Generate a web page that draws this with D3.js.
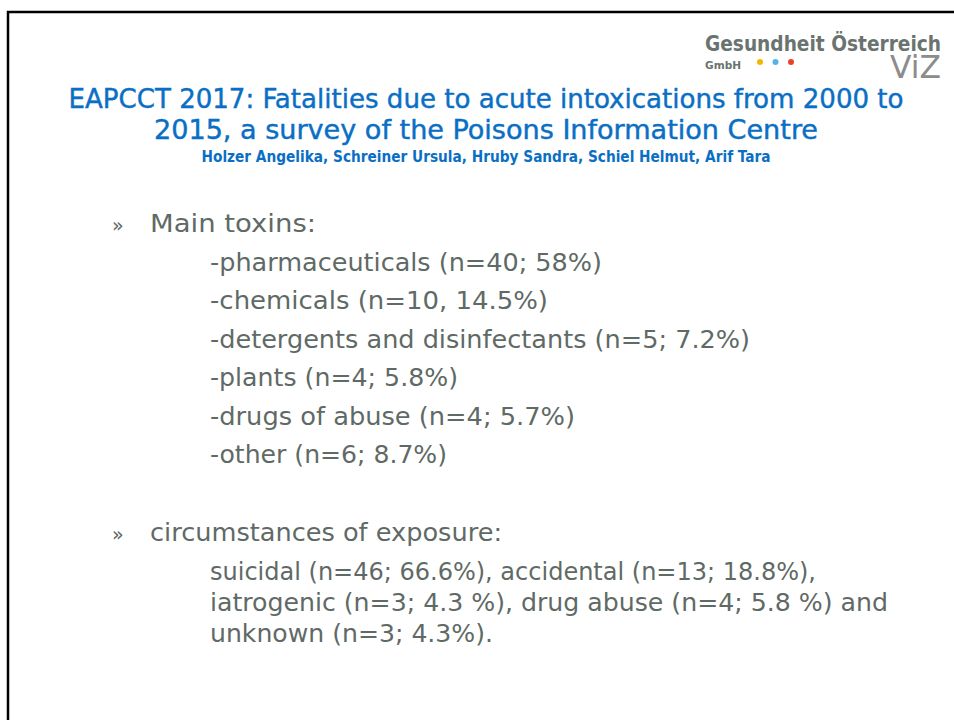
<!DOCTYPE html>
<html>
<head>
<meta charset="utf-8">
<script src="https://cdn.jsdelivr.net/npm/d3@7"></script>
<style>
  body { margin:0; background:#fff; }
  svg { display:block; }
</style>
</head>
<body>
<div id="chart"></div>
<script>
// slide content
const titleLines = ["EAPCCT 2017: Fatalities due to acute intoxications from 2000 to",
                    "2015, a survey of the Poisons Information Centre"]
const authors = "Holzer Angelika, Schreiner Ursula, Hruby Sandra, Schiel Helmut, Arif Tara"
const heading1 = "Main toxins:"
const toxinNames = ["pharmaceuticals", "chemicals", "detergents and disinfectants", "plants", "drugs of abuse", "other"]
const toxinN     = [40, 10, 5, 4, 4, 6]
const toxinPct   = ["58%", "14.5%", "7.2%", "5.8%", "5.7%", "8.7%"]
const toxinSep   = [";", ",", ";", ";", ";", ";"]
const heading2 = "circumstances of exposure:"
const exposureLines = ["suicidal (n=46; 66.6%), accidental (n=13; 18.8%),",
                       "iatrogenic (n=3; 4.3 %), drug abuse (n=4; 5.8 %) and",
                       "unknown (n=3; 4.3%)."]
const logoDots = ["#f2b705", "#55b4e3", "#e8402c"]

function render(){
  let width = 954, height = 720
  let svg = d3.select("#chart").append("svg").attr("width", width).attr("height", height)
  svg.append("rect").attr("width", width).attr("height", height).attr("fill", "#fff")

  // frame (top and left edge)
  svg.append("path")
    .attr("d", `M8,${height} V12 H${width}`)
    .attr("fill", "none").attr("stroke", "#000").attr("stroke-width", 2.5)

  // logo
  let logo = svg.append("g").attr("transform", "translate(705,0)")
  logo.append("text").attr("x", 0).attr("y", 51)
    .attr("font-family", "DejaVu Sans Condensed").attr("font-weight", "bold")
    .attr("font-size", 21).attr("fill", "#6a736f")
    .attr("textLength", 236).attr("lengthAdjust", "spacingAndGlyphs")
    .text("Gesundheit Österreich")
  logo.append("text").attr("x", 0).attr("y", 69)
    .attr("font-family", "DejaVu Sans Condensed").attr("font-weight", "bold")
    .attr("font-size", 11).attr("fill", "#6a736f")
    .attr("textLength", 36).attr("lengthAdjust", "spacingAndGlyphs")
    .text("GmbH")
  let dotX = d3.scalePoint().domain(d3.range(logoDots.length)).range([55, 86])
  logo.selectAll("circle").data(logoDots).join("circle")
    .attr("cx", (d, i) => dotX(i)).attr("cy", 62).attr("r", 3)
    .attr("fill", d => d)
  logo.append("text").attr("x", 236).attr("y", 78).attr("text-anchor", "end")
    .attr("font-family", "DejaVu Sans").attr("font-size", 26).attr("fill", "#8b8d8c")
    .attr("transform", "translate(236,78) scale(1,1.25) translate(-236,-78)")
    .attr("textLength", 51).attr("lengthAdjust", "spacingAndGlyphs")
    .text("ViZ")

  // title
  let titleY = d3.scaleLinear().domain([0, 1]).range([108, 139])
  let titleW = [835, 664]
  svg.selectAll(".title").data(titleLines).join("text").attr("class", "title")
    .attr("x", 486).attr("y", (d, i) => titleY(i)).attr("text-anchor", "middle")
    .attr("font-family", "DejaVu Sans Condensed").attr("font-size", 27).attr("fill", "#0a6fc4")
    .attr("stroke", "#0a6fc4").attr("stroke-width", 0.4)
    .attr("textLength", (d, i) => titleW[i]).attr("lengthAdjust", "spacingAndGlyphs")
    .text(d => d)
  svg.append("text").attr("x", 486).attr("y", 162).attr("text-anchor", "middle")
    .attr("font-family", "DejaVu Sans Condensed").attr("font-weight", "bold")
    .attr("font-size", 15.5).attr("fill", "#0a6fc4")
    .attr("textLength", 569).attr("lengthAdjust", "spacingAndGlyphs")
    .text(authors)

  const grey = "#5f6a66"
  // section 1
  let rowY = d3.scaleLinear().domain([0, 1]).range([271, 309.4])
  let bullet = (y, label, w) => {
    svg.append("text").attr("x", 112).attr("y", y)
      .attr("font-family", "DejaVu Sans").attr("font-size", 19).attr("fill", grey).text("»")
    svg.append("text").attr("x", 150).attr("y", y)
      .attr("font-family", "DejaVu Sans").attr("font-size", 24).attr("fill", grey)
      .attr("textLength", w).attr("lengthAdjust", "spacingAndGlyphs").text(label)
  }
  bullet(232, heading1, 166)

  let toxinLabels = toxinNames.map((d, i) => `-${d} (n=${toxinN[i]}${toxinSep[i]} ${toxinPct[i]})`)
  let toxinW = [392, 338, 540, 248, 365, 237]
  svg.selectAll(".toxin").data(toxinLabels).join("text").attr("class", "toxin")
    .attr("x", 210).attr("y", (d, i) => rowY(i))
    .attr("font-family", "DejaVu Sans").attr("font-size", 24).attr("fill", grey)
    .attr("textLength", (d, i) => toxinW[i]).attr("lengthAdjust", "spacingAndGlyphs")
    .text(d => d)

  // section 2
  bullet(541, heading2, 352)
  let expY = d3.scaleLinear().domain([0, 1]).range([580, 611])
  let expW = [606, 678, 283]
  svg.selectAll(".exp").data(exposureLines).join("text").attr("class", "exp")
    .attr("x", 210).attr("y", (d, i) => expY(i))
    .attr("font-family", "DejaVu Sans Condensed").attr("font-size", 25).attr("fill", grey)
    .attr("textLength", (d, i) => expW[i]).attr("lengthAdjust", "spacingAndGlyphs")
    .text(d => d)
}
render()
</script>
</body>
</html>
